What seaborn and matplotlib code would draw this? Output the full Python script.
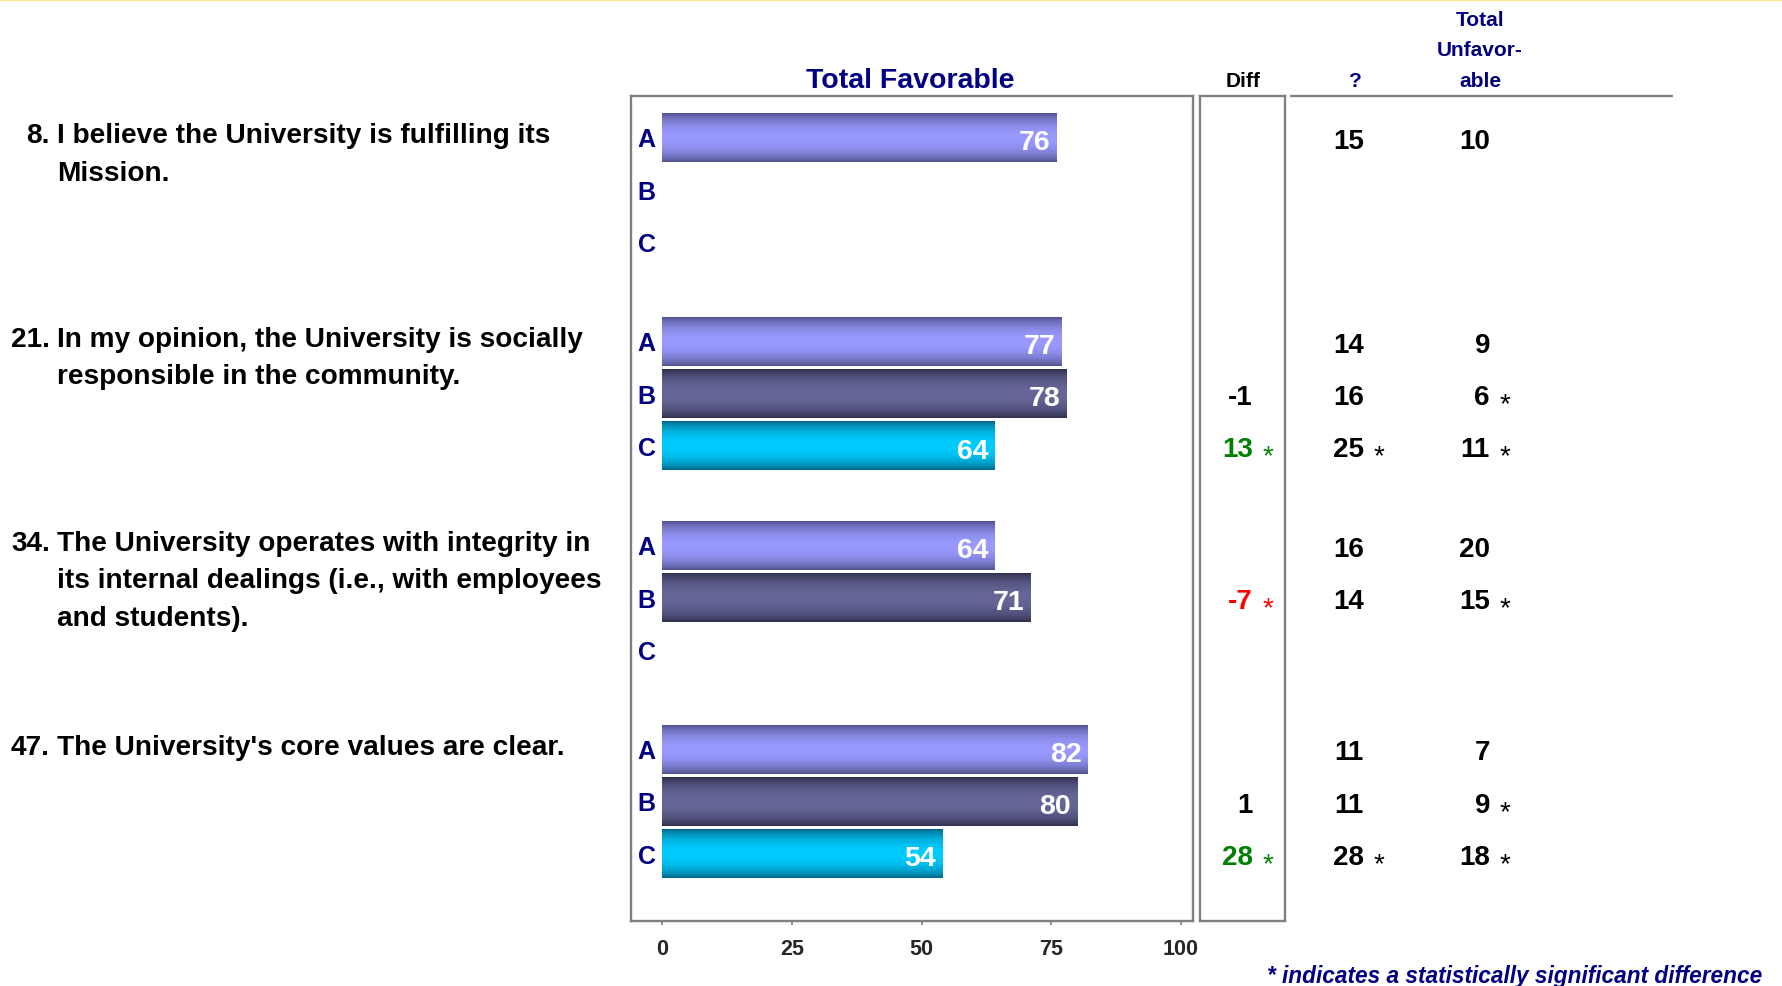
import numpy as np
import pandas as pd
import matplotlib
matplotlib.use("Agg")
import matplotlib.pyplot as plt
import matplotlib.transforms as mtransforms
from matplotlib.lines import Line2D
from matplotlib.colors import to_rgb
import seaborn as sns

# ---------------- data ----------------
question_numbers = ["8.", "21.", "34.", "47."]
question_lines = [
    ["I believe the University is fulfilling its", "Mission."],
    ["In my opinion, the University is socially", "responsible in the community."],
    ["The University operates with integrity in",
     "its internal dealings (i.e., with employees", "and students)."],
    ["The University's core values are clear."],
]
series = ["A", "B", "C"]

# Total favorable (%) per question, rows A/B/C
favorable = [
    [76, None, None],
    [77, 78, 64],
    [64, 71, None],
    [82, 80, 54],
]
# Difference column (shown on B and C rows)
diff = [
    [None, None, None],
    [None, -1, 13],
    [None, -7, None],
    [None, 1, 28],
]
diff_sig = [
    [False, False, False],
    [False, False, True],
    [False, True, False],
    [False, False, True],
]
# "?" (neutral) column
neutral = [
    [15, None, None],
    [14, 16, 25],
    [16, 14, None],
    [11, 11, 28],
]
neutral_sig = [
    [False, False, False],
    [False, False, True],
    [False, False, False],
    [False, False, True],
]
# Total unfavorable column
unfavorable = [
    [10, None, None],
    [9, 6, 11],
    [20, 15, None],
    [7, 9, 18],
]
unfavorable_sig = [
    [False, False, False],
    [False, True, True],
    [False, True, False],
    [False, True, True],
]
x_ticks = [0, 25, 50, 75, 100]
footnote = "* indicates a statistically significant difference"

# ---------------- styling ----------------
sns.set_style("white")
plt.rcParams["font.family"] = ["Liberation Sans", "DejaVu Sans"]
plt.rcParams["font.weight"] = "bold"

NAVY = "#000080"
GRAY = "#808080"
GREEN = "#008000"
RED = "#FF0000"
bar_center = {"A": "#9999FF", "B": "#666699", "C": "#00CCFF"}
bar_edge = {"A": "#4A4A80", "B": "#2B2B45", "C": "#005F7F"}

W, H, DPI = 1783, 987, 100
GROUP_STEP = 3.9  # vertical distance between question blocks, in row units


def fx(px):
    return px / W


def fy(py):
    return 1 - py / H


def row_pos(g, k):
    return g * GROUP_STEP + k


# long-form table for the bars
records = []
for g, vals in enumerate(favorable):
    for k, v in enumerate(vals):
        if v is not None:
            records.append({"pos": row_pos(g, k), "series": series[k], "value": v})
df = pd.DataFrame(records)

fig = plt.figure(figsize=(W / DPI, H / DPI), dpi=DPI)
fig.patch.set_facecolor("white")

# main bar panel
ax = fig.add_axes([fx(631), fy(922), fx(1193 - 631), (922 - 97) / H])
sns.barplot(
    data=df, x="value", y="pos", hue="series", hue_order=series,
    palette=bar_center, orient="h", native_scale=True, dodge=False,
    width=0.925, errorbar=None, saturation=1, legend=False, ax=ax,
    linewidth=0,
)

# vertical gradient fill for each bar
t = np.linspace(0, 1, 256)
shape = np.sin(np.pi * t) ** 0.65
center_to_series = {to_rgb(c): s for s, c in bar_center.items()}
for patch in list(ax.patches):
    fc = tuple(np.round(patch.get_facecolor()[:3], 4))
    s = None
    for c, name in center_to_series.items():
        if np.allclose(c, fc, atol=1e-3):
            s = name
    if s is None:
        continue
    e = np.array(to_rgb(bar_edge[s]))
    c = np.array(to_rgb(bar_center[s]))
    img = (e[None, :] + (c - e)[None, :] * shape[:, None])[:, None, :]
    x0, y0 = patch.get_x(), patch.get_y()
    w, h = patch.get_width(), patch.get_height()
    ax.imshow(img, extent=[x0, x0 + w, y0 + h, y0], aspect="auto",
              interpolation="bilinear", zorder=patch.get_zorder() + 0.1)

XMIN, XMAX = -6.0, 102.3
ax.set_xlim(XMIN, XMAX)
ax.set_ylim(14.98, -0.80)
ax.set_aspect("auto")
ax.set_xlabel("")
ax.set_ylabel("")
ax.set_yticks([])
ax.set_xticks(x_ticks)
ax.set_xticklabels([str(v) for v in x_ticks], fontweight="bold", fontsize=15.5)
ax.tick_params(axis="x", direction="out", length=3, width=1.2, color=GRAY,
               pad=9, bottom=True)
for sp in ax.spines.values():
    sp.set_color(GRAY)
    sp.set_linewidth(1.7)
    sp.set_visible(True)

# value labels inside bars and A/B/C row letters
for g, vals in enumerate(favorable):
    for k, v in enumerate(vals):
        y = row_pos(g, k)
        ax.text(-2.95, y + 0.165, series[k], ha="center", va="baseline",
                color=NAVY, fontsize=18, fontweight="bold", zorder=5)
        if v is not None:
            ax.text(v - 1.2, y + 0.215, str(v), ha="right", va="baseline",
                    color="white", fontsize=20.5, fontweight="bold", zorder=5)

# difference panel frame
ax2 = fig.add_axes([fx(1200), fy(922), fx(85), (922 - 97) / H])
ax2.set_xticks([])
ax2.set_yticks([])
for sp in ax2.spines.values():
    sp.set_color(GRAY)
    sp.set_linewidth(1.7)
    sp.set_visible(True)

# numeric columns: x in figure pixels, y in bar-panel row units
trans = mtransforms.blended_transform_factory(fig.transFigure, ax.transData)
NUM_DY = 0.19   # baseline offset for 20pt digits
STAR_DY = 0.33  # asterisks sit lower than the digits


def put_column(values, flags, x_right, x_star, colorfn):
    for g, vals in enumerate(values):
        for k, v in enumerate(vals):
            if v is None:
                continue
            y = row_pos(g, k)
            col = colorfn(v, flags[g][k])
            fig.text(fx(x_right), y + NUM_DY, str(v), transform=trans,
                     ha="right", va="baseline", fontsize=20,
                     fontweight="bold", color=col)
            if flags[g][k]:
                fig.text(fx(x_star), y + STAR_DY, "*", transform=trans,
                         ha="center", va="baseline", fontsize=20,
                         fontweight="normal", color=col)


def diff_color(v, sig):
    if not sig:
        return "black"
    return GREEN if v > 0 else RED


put_column(diff, diff_sig, 1253, 1268, diff_color)
put_column(neutral, neutral_sig, 1364, 1379, lambda v, s: "black")
put_column(unfavorable, unfavorable_sig, 1490, 1505, lambda v, s: "black")

# question text with hanging numbers
LINE_STEP = 0.718
for g, lines in enumerate(question_lines):
    y0 = row_pos(g, 0) + 0.08
    fig.text(fx(50), y0, question_numbers[g], transform=trans, ha="right",
             va="baseline", fontsize=20.2, fontweight="bold", color="black")
    for i, line in enumerate(lines):
        fig.text(fx(57), y0 + i * LINE_STEP, line, transform=trans,
                 ha="left", va="baseline", fontsize=20.2, fontweight="bold",
                 color="black")

# column headers
fig.text(fx(910), fy(88), "Total Favorable", ha="center", va="baseline",
         fontsize=20.5, fontweight="bold", color=NAVY)
fig.text(fx(1243), fy(87), "Diff", ha="center", va="baseline",
         fontsize=15, fontweight="bold", color="black")
fig.text(fx(1355), fy(87), "?", ha="center", va="baseline",
         fontsize=15, fontweight="bold", color=NAVY)
for txt, yb in [("Total", 26), ("Unfavor-", 56), ("able", 87)]:
    fig.text(fx(1480), fy(yb), txt, ha="center", va="baseline",
             fontsize=15, fontweight="bold", color=NAVY)

# rule under the right-hand headers and thin accent line on top
fig.add_artist(Line2D([fx(1291), fx(1672)], [fy(97), fy(97)],
                      transform=fig.transFigure, color=GRAY, lw=1.7))
fig.add_artist(Line2D([0, 1], [fy(1), fy(1)], transform=fig.transFigure,
                      color="#FFE38C", lw=1.5))

# footnote
fig.text(fx(1762), fy(983), footnote, ha="right", va="baseline",
         fontsize=16.3, fontweight="bold", fontstyle="italic", color=NAVY)

fig.savefig("out.png", dpi=DPI, facecolor="white")
